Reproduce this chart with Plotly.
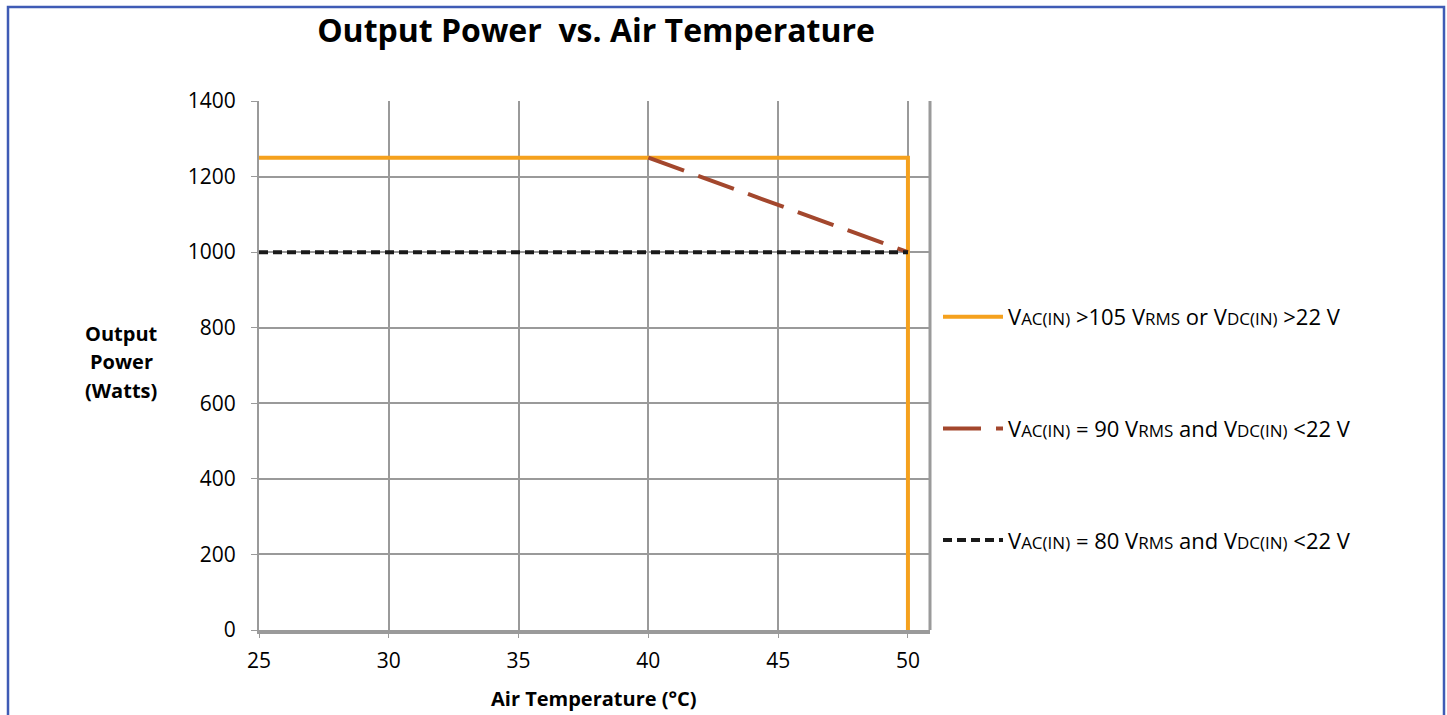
import plotly.graph_objects as go

# ---- data ----
temp_a = [25, 50, 50]
power_a = [1250, 1250, 0]
temp_b = [40, 50]
power_b = [1250, 1000]
temp_c = [25, 50]
power_c = [1000, 1000]

x_ticks = [25, 30, 35, 40, 45, 50]
y_ticks = [0, 200, 400, 600, 800, 1000, 1200, 1400]

S = "<span style='font-size:17px'>"
E = "</span>"
name_a = f"V{S}AC(IN){E} >105 V{S}RMS{E} or V{S}DC(IN){E} >22 V"
name_b = f"V{S}AC(IN){E} = 90 V{S}RMS{E} and V{S}DC(IN){E} <22 V"
name_c = f"V{S}AC(IN){E} = 80 V{S}RMS{E} and V{S}DC(IN){E} <22 V"

FONT = "Open Sans"
W, H = 1447, 715
L, R, T, B = 259, 930, 101, 630

fig = go.Figure()
fig.add_trace(go.Scatter(x=temp_a, y=power_a, mode="lines", name=name_a, legendgroup="a",
                         line=dict(color="#F5A11D", width=4)))
fig.add_trace(go.Scatter(x=temp_b, y=power_b, mode="lines", name=name_b, legendgroup="b",
                         line=dict(color="#A3472D", width=4, dash="38px,15px")))
fig.add_trace(go.Scatter(x=temp_c, y=power_c, mode="lines", name=name_c, legendgroup="c",
                         line=dict(color="#1a1a1a", width=4, dash="9px,5px")))

def px2x(p):
    return (p - L) / (R - L)

def px2y(p):
    return (B - p) / (B - T)

annots = []
for txt, yy in [("Output", 333), ("Power", 361), ("(Watts)", 390)]:
    annots.append(dict(text=f"<b>{txt}</b>", xref="paper", yref="paper",
                       x=px2x(121), y=px2y(yy), xanchor="center", yanchor="middle",
                       showarrow=False, font=dict(size=20, family=FONT)))
annots.append(dict(text="<b>Air Temperature (°C)</b>", xref="paper", yref="paper",
                   x=px2x(594), y=px2y(698), xanchor="center", yanchor="middle",
                   showarrow=False, font=dict(size=20, family=FONT)))

fig.update_layout(
    width=W, height=H,
    margin=dict(l=L, r=W - R, t=T, b=H - B, pad=0),
    paper_bgcolor="white", plot_bgcolor="white",
    font=dict(family=FONT, size=21, color="#000"),
    title=dict(text="<b>Output Power  vs. Air Temperature</b>", x=596 / W, xanchor="center",
               y=1 - 31 / H, yanchor="middle", font=dict(size=32, family=FONT)),
    showlegend=True,
    legend=dict(x=px2x(938), y=px2y(296), xanchor="left", yanchor="top",
                font=dict(size=22, family=FONT), tracegroupgap=80,
                bgcolor="rgba(0,0,0,0)", itemwidth=60),
    xaxis=dict(range=[25, 50.85], tickvals=x_ticks, showgrid=True, gridcolor="#9a9a9a", gridwidth=2,
               showline=True, linecolor="#9a9a9a", linewidth=4, mirror=False,
               ticks="outside", ticklen=4, tickcolor="#9a9a9a", tickfont=dict(size=21),
               ticklabelstandoff=5, zeroline=False, fixedrange=True),
    yaxis=dict(range=[0, 1400], tickvals=y_ticks, showgrid=True, gridcolor="#9a9a9a", gridwidth=2,
               showline=True, linecolor="#9a9a9a", linewidth=2, mirror=False,
               ticks="outside", ticklen=6, tickcolor="#9a9a9a", tickfont=dict(size=21),
               ticklabelstandoff=11, zeroline=False, fixedrange=True),
    shapes=[
        dict(type="line", xref="paper", yref="paper", x0=1, x1=1, y0=0, y1=1,
             line=dict(color="#9a9a9a", width=3)),
        dict(type="rect", xref="paper", yref="paper",
             x0=px2x(8), x1=px2x(1444), y0=px2y(740), y1=px2y(7),
             line=dict(color="#3F5BB5", width=2.5), fillcolor="rgba(0,0,0,0)", layer="above"),
    ],
    annotations=annots,
)

fig.write_html("out.html", config={"displayModeBar": False},
               post_script="document.body.style.margin='0';document.body.style.overflow='hidden';")
